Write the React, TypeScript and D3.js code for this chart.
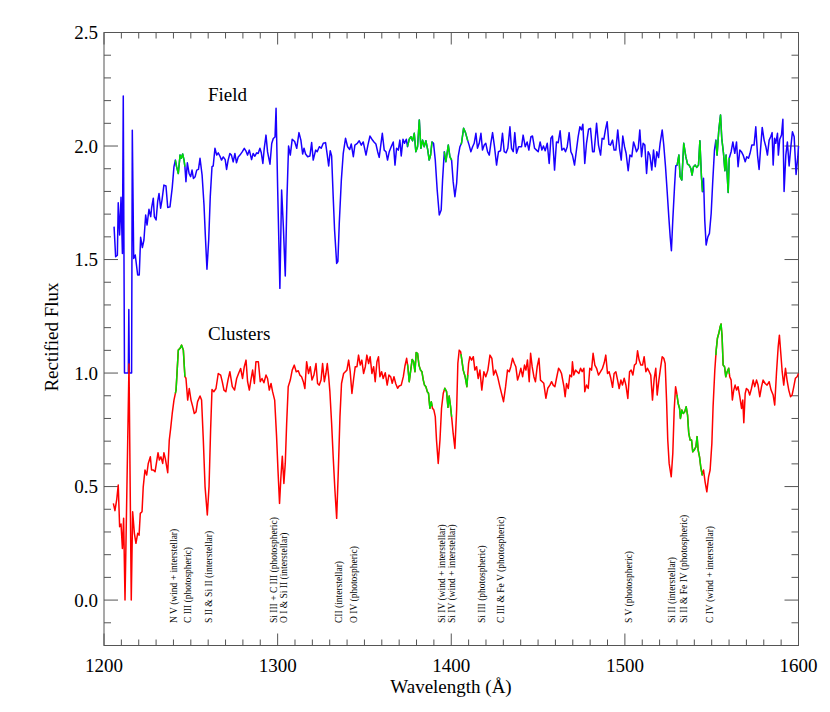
import React, { useEffect } from "react";
import * as d3 from "d3";

// ---- Data ----
const fieldSpectrum: [number, number][] = [
  [1205.8,1.645],[1206.7,1.512],[1207.7,1.519],[1208.2,1.75],[1209.0,1.608],[1209.8,1.774],[1210.6,1.527],[1211.1,2.22],
  [1211.8,1.0],[1214.0,1.0],[1214.3,1.28],[1214.6,1.0],[1215.9,1.0],[1216.3,2.07],[1217.1,1.505],[1218.0,1.52],
  [1219.4,1.432],[1220.3,1.432],[1221.1,1.598],[1222.1,1.553],[1223.0,1.586],[1224.0,1.696],[1224.8,1.652],[1225.9,1.721],
  [1226.9,1.689],[1227.4,1.726],[1228.4,1.77],[1229.0,1.689],[1230.0,1.674],[1230.9,1.755],[1231.7,1.791],[1232.6,1.726],
  [1233.4,1.762],[1234.5,1.828],[1235.7,1.824],[1236.7,1.729],[1238.0,1.732],[1239.3,1.817],[1240.3,1.909],[1241.1,1.938],
  [1241.8,1.909],[1242.8,1.879],[1243.8,1.96],[1244.5,1.946],[1245.3,1.965],[1246.1,1.938],[1246.6,1.909],[1247.2,1.843],
  [1248.0,1.926],[1249.0,1.879],[1249.9,1.865],[1250.7,1.894],[1251.5,1.857],[1252.5,1.865],[1253.4,1.894],[1254.4,1.897],
  [1255.3,1.946],[1256.5,1.872],[1257.6,1.74],[1258.4,1.6],[1259.3,1.457],[1260.3,1.586],[1261.2,1.777],[1262.2,1.909],
  [1262.9,1.912],[1263.9,1.99],[1264.9,1.96],[1265.8,1.97],[1266.8,1.955],[1267.7,1.938],[1268.7,1.952],[1269.8,1.94],
  [1270.6,1.897],[1271.5,1.938],[1272.5,1.967],[1273.4,1.96],[1274.4,1.93],[1275.4,1.967],[1276.3,1.926],[1277.3,1.952],
  [1278.3,1.96],[1279.6,1.974],[1280.8,1.99],[1281.7,1.979],[1282.7,1.96],[1283.7,1.982],[1285.0,1.94],[1285.9,1.967],
  [1286.9,1.955],[1287.9,1.97],[1288.8,1.967],[1289.8,1.99],[1290.6,1.97],[1291.5,1.923],[1292.3,1.99],[1293.3,2.048],
  [1294.2,1.974],[1295.6,1.92],[1296.6,2.011],[1297.5,2.033],[1298.5,2.04],[1299.1,2.166],[1300.0,1.82],[1301.3,1.373],
  [1302.3,1.806],[1303.3,1.645],[1304.4,1.428],[1305.4,1.777],[1306.3,2.0],[1307.3,1.96],[1308.4,2.03],[1309.8,2.02],
  [1311.0,1.99],[1312.3,2.059],[1313.4,2.026],[1314.4,1.965],[1315.2,1.99],[1316.1,1.965],[1317.3,1.953],[1318.6,1.956],
  [1319.6,2.015],[1320.5,1.938],[1321.9,1.982],[1322.8,1.975],[1324.0,1.997],[1325.1,1.99],[1326.3,2.012],[1327.6,2.015],
  [1328.6,1.96],[1329.4,1.912],[1330.3,1.979],[1331.1,1.956],[1332.0,1.777],[1332.8,1.63],[1334.0,1.483],[1334.7,1.491],
  [1335.5,1.659],[1336.7,1.85],[1337.8,1.968],[1339.1,2.034],[1340.3,1.997],[1341.5,1.985],[1342.4,2.009],[1343.6,1.953],
  [1344.5,2.004],[1345.9,2.012],[1347.0,2.023],[1348.2,2.004],[1349.3,2.018],[1350.9,1.96],[1352.0,2.004],[1353.2,2.044],
  [1354.3,2.03],[1355.5,2.018],[1356.6,2.009],[1357.6,1.975],[1358.5,1.95],[1359.3,1.997],[1360.3,2.056],[1361.4,1.982],
  [1362.4,1.975],[1363.3,1.938],[1364.3,1.975],[1365.4,1.997],[1366.6,2.018],[1367.6,1.916],[1368.5,1.99],[1369.5,1.982],
  [1370.4,2.026],[1371.2,1.956],[1372.2,2.03],[1373.1,2.012],[1374.1,2.03],[1374.8,1.997],[1375.8,2.03],[1376.8,2.041],
  [1377.7,2.023],[1378.7,2.056],[1379.6,1.975],[1380.6,1.997],[1381.6,2.115],[1382.5,1.99],[1383.5,2.026],[1384.4,1.997],
  [1385.4,2.023],[1386.4,1.985],[1387.3,1.938],[1388.1,1.96],[1388.9,2.018],[1389.8,2.012],[1390.8,1.938],[1391.9,1.806],
  [1393.1,1.696],[1394.2,1.718],[1395.0,1.85],[1396.0,1.975],[1396.9,1.931],[1398.3,2.004],[1399.2,1.953],[1400.2,1.938],
  [1401.1,1.843],[1402.1,1.777],[1403.1,1.836],[1404.0,1.953],[1405.0,1.997],[1405.9,2.012],[1407.1,2.078],[1408.2,2.059],
  [1409.4,2.026],[1410.3,2.004],[1411.3,1.975],[1412.3,1.997],[1413.2,2.012],[1414.2,2.056],[1415.1,1.99],[1416.1,2.012],
  [1417.1,2.056],[1418.0,1.982],[1419.0,2.004],[1419.9,2.012],[1420.9,1.975],[1421.9,1.96],[1422.8,2.012],[1423.8,2.059],
  [1424.9,1.997],[1426.1,1.916],[1427.2,1.975],[1428.4,1.979],[1429.5,2.056],[1430.5,1.975],[1431.6,1.97],[1432.6,1.99],
  [1433.8,2.085],[1434.7,1.99],[1435.7,1.975],[1436.6,2.059],[1437.6,1.968],[1438.8,1.997],[1440.5,1.997],[1441.4,2.048],
  [1442.6,1.997],[1443.7,2.018],[1444.7,1.982],[1445.9,2.041],[1446.8,2.044],[1448.0,1.99],[1449.1,1.982],[1450.1,1.975],
  [1451.2,2.018],[1452.2,1.982],[1453.1,2.0],[1454.1,1.979],[1455.3,2.012],[1456.4,1.923],[1457.4,2.034],[1458.3,2.044],
  [1459.5,1.894],[1460.6,2.018],[1461.6,2.015],[1462.7,2.067],[1463.7,1.982],[1464.9,1.99],[1465.8,1.975],[1466.8,1.997],
  [1467.9,2.059],[1468.9,1.975],[1469.8,1.96],[1471.0,1.916],[1472.1,1.982],[1473.1,2.041],[1474.1,2.085],[1475.0,2.071],
  [1475.8,2.096],[1476.9,1.923],[1477.9,2.012],[1479.1,2.074],[1480.2,2.078],[1481.4,1.975],[1482.3,1.975],[1483.7,2.1],
  [1484.8,2.004],[1486.0,1.96],[1486.9,2.034],[1487.9,2.03],[1488.8,2.071],[1489.8,2.107],[1490.8,2.007],[1491.7,2.004],
  [1492.9,2.026],[1493.8,1.982],[1494.8,1.982],[1495.9,2.071],[1496.9,1.99],[1497.9,1.938],[1498.8,2.044],[1499.8,1.997],
  [1500.7,1.968],[1501.9,1.891],[1502.9,1.96],[1504.0,1.953],[1505.0,2.018],[1505.9,1.997],[1506.7,1.975],[1507.7,1.99],
  [1508.6,2.071],[1509.6,1.953],[1510.5,2.012],[1511.5,2.004],[1512.5,1.879],[1513.4,1.975],[1514.4,1.96],[1515.5,1.894],
  [1516.5,1.982],[1517.5,1.909],[1518.4,1.975],[1519.4,1.949],[1520.3,2.012],[1521.5,2.071],[1522.4,2.004],[1523.4,1.909],
  [1524.3,1.806],[1525.3,1.688],[1526.1,1.6],[1526.8,1.539],[1527.6,1.674],[1528.6,1.821],[1529.3,1.912],[1530.1,1.916],
  [1531.1,1.96],[1531.8,1.865],[1532.8,1.85],[1533.9,2.012],[1535.1,1.953],[1536.1,1.92],[1537.0,1.916],[1538.0,1.901],
  [1538.7,1.872],[1539.5,1.909],[1540.5,1.916],[1541.4,1.906],[1542.4,1.916],[1543.2,2.023],[1544.1,1.865],[1544.7,1.799],
  [1545.3,1.858],[1546.0,1.674],[1546.8,1.564],[1547.8,1.6],[1548.7,1.615],[1549.7,1.703],[1550.6,1.843],[1551.6,1.982],
  [1552.4,2.026],[1553.1,1.96],[1554.1,2.071],[1555.1,2.137],[1555.8,2.034],[1556.8,1.968],[1557.6,1.891],[1558.3,1.96],
  [1559.5,1.795],[1560.1,1.946],[1561.2,1.975],[1562.2,2.018],[1563.3,1.968],[1564.3,2.018],[1565.2,1.909],[1566.2,1.982],
  [1567.1,1.975],[1568.1,1.96],[1569.3,1.931],[1570.2,1.953],[1571.2,1.946],[1572.1,1.968],[1573.1,2.004],[1574.4,2.004],
  [1575.4,2.085],[1576.4,1.96],[1577.3,1.897],[1578.1,1.982],[1579.1,2.082],[1580.2,2.026],[1581.2,1.997],[1582.1,1.96],
  [1583.1,2.026],[1584.0,2.041],[1584.8,2.059],[1585.4,1.916],[1586.2,2.034],[1586.9,2.012],[1587.9,2.056],[1588.4,1.96],
  [1589.2,2.03],[1590.2,2.048],[1591.0,2.118],[1591.7,1.80],[1592.7,1.96],[1593.6,2.018],[1594.6,1.912],[1595.6,1.997],
  [1596.5,2.063],[1597.5,2.041],[1598.6,1.875],[1599.6,1.953],[1600.0,2.0],
];

const clusterSpectrum: [number, number][] = [
  [1205.4,0.426],[1206.3,0.394],[1207.3,0.441],[1208.2,0.507],[1209.0,0.323],[1209.8,0.335],[1210.6,0.227],[1211.3,0.36],
  [1212.1,0.0],[1214.4,1.04],[1215.7,0.0],[1216.5,0.389],[1217.5,0.294],[1218.4,0.25],[1219.4,0.294],[1220.2,0.286],
  [1220.9,0.382],[1221.9,0.389],[1222.6,0.499],[1223.6,0.573],[1224.6,0.551],[1225.5,0.602],[1226.7,0.631],[1227.4,0.573],
  [1228.4,0.573],[1229.4,0.565],[1230.3,0.609],[1231.1,0.649],[1231.9,0.617],[1232.8,0.631],[1233.8,0.602],[1234.5,0.649],
  [1235.3,0.624],[1236.7,0.561],[1237.6,0.705],[1238.4,0.756],[1239.3,0.822],[1240.3,0.881],[1241.5,0.925],[1242.8,1.101],
  [1243.8,1.109],[1244.7,1.123],[1245.7,1.101],[1246.6,0.984],[1247.2,0.977],[1248.2,0.881],[1249.1,0.932],[1250.1,0.881],
  [1251.1,0.852],[1252.0,0.822],[1253.0,0.829],[1253.9,0.874],[1255.3,0.899],[1256.2,0.881],[1257.2,0.705],[1258.2,0.5],
  [1259.5,0.375],[1260.5,0.5],[1261.4,0.749],[1262.2,0.928],[1263.3,0.918],[1264.5,0.932],[1265.8,0.998],[1267.2,0.991],
  [1268.1,0.962],[1269.1,0.925],[1270.2,0.918],[1271.4,0.969],[1272.5,1.006],[1273.9,0.94],[1275.2,0.925],[1276.4,0.976],
  [1277.5,0.998],[1278.7,1.02],[1279.8,0.976],[1280.8,1.028],[1281.8,1.057],[1282.7,0.962],[1283.7,0.925],[1284.6,0.969],
  [1285.6,1.013],[1286.6,0.954],[1287.5,1.05],[1288.9,1.05],[1290.0,0.962],[1291.0,0.976],[1292.1,0.957],[1293.3,0.991],
  [1294.2,0.976],[1295.2,0.925],[1296.2,0.954],[1297.1,0.918],[1298.3,0.881],[1299.4,0.72],[1300.2,0.573],[1301.1,0.426],
  [1301.9,0.543],[1302.7,0.634],[1303.6,0.514],[1304.4,0.602],[1305.2,0.778],[1306.1,0.94],[1307.3,0.969],[1308.4,1.013],
  [1309.6,1.035],[1310.7,1.006],[1311.9,1.01],[1312.8,0.991],[1313.8,0.984],[1314.8,0.962],[1315.7,0.932],[1316.7,1.05],
  [1317.8,0.998],[1318.8,1.028],[1319.8,0.969],[1320.9,0.991],[1322.1,1.042],[1323.0,0.954],[1324.0,0.947],[1325.0,0.969],
  [1325.9,1.042],[1326.9,0.962],[1327.8,0.998],[1328.6,1.042],[1329.4,0.984],[1330.1,0.918],[1331.1,0.778],[1332.0,0.631],
  [1333.0,0.484],[1334.0,0.36],[1334.9,0.558],[1335.9,0.808],[1336.8,0.954],[1338.0,0.998],[1339.0,1.006],[1339.9,1.013],
  [1340.9,1.057],[1341.8,1.006],[1342.8,0.91],[1343.8,0.976],[1344.7,1.028],[1345.7,1.028],[1346.6,1.079],[1347.6,1.035],
  [1348.5,1.057],[1349.5,0.998],[1350.5,1.028],[1351.4,1.079],[1352.4,1.042],[1353.3,1.072],[1354.3,0.998],[1355.3,1.028],
  [1356.2,0.962],[1357.2,1.05],[1358.1,1.072],[1358.9,0.984],[1359.9,1.006],[1360.8,0.976],[1362.0,1.001],[1363.1,0.947],
  [1364.1,0.991],[1365.1,0.984],[1366.0,0.955],[1367.0,0.984],[1368.1,0.952],[1369.1,0.933],[1370.0,0.943],[1371.2,0.947],
  [1372.4,0.984],[1373.3,1.03],[1374.3,1.065],[1375.0,1.028],[1375.8,0.962],[1376.8,1.021],[1377.5,1.06],[1378.3,1.05],
  [1379.1,1.006],[1379.8,1.09],[1380.6,1.087],[1381.4,1.035],[1382.3,1.013],[1383.1,1.006],[1383.9,0.969],[1384.6,0.947],
  [1385.4,0.94],[1386.2,0.918],[1386.9,0.911],[1387.7,0.845],[1388.5,0.874],[1389.2,0.845],[1390.0,0.837],[1390.8,0.808],
  [1391.5,0.705],[1392.5,0.602],[1393.5,0.705],[1394.4,0.845],[1395.4,0.911],[1396.3,0.933],[1397.3,0.918],[1398.1,0.849],
  [1398.8,0.899],[1399.6,0.852],[1400.4,0.793],[1401.1,0.734],[1402.1,0.668],[1403.1,0.837],[1403.8,1.043],[1404.6,1.101],
  [1405.4,1.094],[1406.1,1.057],[1406.9,1.013],[1408.0,0.984],[1409.0,0.94],[1410.0,1.043],[1410.7,1.072],[1411.7,1.057],
  [1412.7,1.072],[1413.6,1.013],[1414.6,1.028],[1415.5,0.976],[1416.5,1.013],[1417.6,0.925],[1418.8,1.006],[1419.9,0.984],
  [1421.1,1.013],[1422.3,1.079],[1423.4,1.065],[1424.4,0.991],[1425.5,1.013],[1426.7,0.984],[1428.0,0.94],[1429.2,0.903],
  [1430.1,0.874],[1431.3,0.94],[1432.4,1.013],[1433.4,1.006],[1434.3,1.028],[1435.3,1.065],[1436.3,1.043],[1437.2,1.028],
  [1438.2,0.969],[1439.1,0.991],[1440.1,1.021],[1441.1,0.984],[1442.2,1.035],[1443.0,1.013],[1443.9,1.057],[1444.9,0.962],
  [1445.7,1.087],[1446.6,1.028],[1447.6,0.984],[1448.5,0.962],[1449.5,1.028],[1450.5,1.065],[1451.4,0.969],[1452.4,0.962],
  [1453.3,0.955],[1454.5,0.889],[1455.6,0.933],[1456.8,0.947],[1457.8,0.962],[1458.7,0.947],[1459.7,0.94],[1460.6,0.976],
  [1461.8,1.021],[1462.6,1.013],[1463.5,0.998],[1464.9,0.94],[1465.6,0.896],[1466.4,0.954],[1467.4,0.932],[1468.3,0.991],
  [1469.3,0.984],[1469.8,1.05],[1470.6,0.991],[1471.6,1.013],[1472.5,1.006],[1473.5,0.998],[1474.5,1.021],[1475.4,1.006],
  [1476.4,1.021],[1476.9,0.918],[1477.9,0.947],[1478.9,0.932],[1479.8,1.021],[1480.8,1.013],[1481.7,1.087],[1482.7,1.035],
  [1483.7,1.021],[1484.8,0.991],[1486.0,1.006],[1487.1,1.021],[1488.1,1.045],[1489.0,1.079],[1490.0,0.998],[1490.9,1.006],
  [1491.9,0.977],[1492.9,0.937],[1493.8,0.998],[1494.8,1.006],[1495.8,0.969],[1496.7,0.932],[1497.7,0.969],[1498.6,0.947],
  [1499.6,0.977],[1500.6,0.947],[1501.7,0.888],[1502.7,1.006],[1503.6,1.013],[1504.6,0.991],[1505.5,1.035],[1506.5,1.042],
  [1507.3,1.098],[1508.2,1.057],[1509.2,1.035],[1510.2,1.035],[1511.1,1.072],[1512.1,1.006],[1513.0,1.021],[1514.0,1.006],
  [1514.9,0.991],[1515.9,0.881],[1516.9,0.977],[1517.8,1.021],[1518.6,0.903],[1519.6,0.969],[1520.5,1.021],[1521.5,1.072],
  [1522.4,1.065],[1523.2,1.042],[1524.0,0.881],[1524.7,0.705],[1525.5,0.602],[1526.7,0.543],[1527.6,0.646],[1528.4,0.837],
  [1529.2,0.94],[1529.9,0.91],[1530.7,0.866],[1531.5,0.844],[1532.0,0.8],[1532.8,0.837],[1533.6,0.822],[1534.5,0.83],
  [1535.3,0.852],[1536.1,0.815],[1536.8,0.734],[1537.6,0.705],[1538.4,0.705],[1539.1,0.653],[1539.9,0.661],[1540.9,0.675],
  [1541.6,0.72],[1542.2,0.661],[1543.0,0.631],[1543.7,0.587],[1544.5,0.551],[1545.3,0.573],[1546.2,0.521],[1547.2,0.477],
  [1548.2,0.543],[1549.1,0.573],[1550.1,0.69],[1550.8,0.852],[1551.8,1.013],[1552.6,1.101],[1553.3,1.153],[1554.1,1.175],
  [1554.9,1.204],[1555.4,1.216],[1556.0,1.16],[1556.6,1.035],[1557.4,1.028],[1558.1,0.984],[1558.9,1.006],[1559.8,1.021],
  [1560.4,0.984],[1561.2,0.969],[1561.9,0.881],[1562.7,0.925],[1563.5,0.947],[1564.3,0.925],[1565.2,0.94],[1566.2,0.896],
  [1567.2,0.844],[1567.9,0.881],[1568.5,0.781],[1569.3,0.91],[1570.0,0.932],[1571.0,0.925],[1571.9,0.903],[1572.9,0.932],
  [1573.9,0.969],[1574.8,0.94],[1575.8,0.969],[1576.7,0.947],[1577.7,0.896],[1578.7,0.94],[1579.6,0.969],[1580.8,0.954],
  [1581.9,0.947],[1583.1,0.962],[1584.2,0.925],[1585.4,0.903],[1586.3,0.859],[1587.3,0.998],[1588.3,1.116],[1589.0,1.167],
  [1589.8,1.087],[1590.6,1.006],[1591.5,0.947],[1592.5,1.021],[1593.4,0.969],[1594.4,0.925],[1595.4,0.896],[1596.3,0.903],
  [1597.3,0.94],[1598.2,0.977],[1599.2,0.984],[1600.0,0.998],
];

// wavelength ranges drawn in green on both spectra
const greenRanges: [number, number][] = [
  [1241.1, 1246.6], [1374.8, 1389.0], [1396.0, 1400.2], [1405.6, 1409.5], [1530.0, 1544.7], [1552.4, 1560.2],
];

const lineLabels: string[] = [
  "N V (wind + interstellar)", "C III (photospheric)", "S II & Si II (interstellar)",
  "Si III + C III (photospheric)", "O I & Si II (interstellar)", "CII (interstellar)",
  "O IV (photospheric)", "Si IV (wind + interstellar)", "Si IV (wind + interstellar)",
  "Si III (photospheric)", "C III & Fe V (photospheric)", "S V (photospheric)",
  "Si II (interstellar)", "Si II & Fe IV (photospheric)", "C IV (wind + interstellar)",
];
const lineWaves: number[] = [
  1239.9, 1248.2, 1260.3, 1297.5, 1303.6, 1335.3, 1343.5, 1394.6, 1400.4, 1417.6, 1428.4, 1502.1, 1526.6, 1533.5, 1548.5,
];

const xMajorTicks: number[] = [1200, 1300, 1400, 1500, 1600];
const yMajorTicks: number[] = [0.0, 0.5, 1.0, 1.5, 2.0, 2.5];
const seriesNames: string[] = ["Field", "Clusters"];

// ---- Layout ----
const W = 830, H = 712;
const L = 104, R = 798.5, T = 32.5, B = 645.5;
const FONT = "'Liberation Serif', 'Times New Roman', serif";
const AXIS = "#555";

const x = d3.scaleLinear().domain([1200, 1600]).range([L, R]);
const y = d3.scaleLinear().domain([-0.2, 2.5]).range([B, T]);

const lineGen = d3.line<[number, number]>().x(d => x(d[0])).y(d => y(d[1]));

function interp(data: [number, number][], w: number): number {
  for (let i = 1; i < data.length; i++) {
    if (data[i][0] >= w) {
      const [x0, y0] = data[i - 1], [x1, y1] = data[i];
      return y0 + ((w - x0) / (x1 - x0)) * (y1 - y0);
    }
  }
  return data[data.length - 1][1];
}

function subset(data: [number, number][], a: number, b: number): [number, number][] {
  const pts: [number, number][] = [[a, interp(data, a)]];
  data.forEach(d => { if (d[0] > a && d[0] < b) pts.push(d); });
  pts.push([b, interp(data, b)]);
  return pts;
}

export default function App() {
  useEffect(() => { document.body.style.margin = "0"; }, []);

  const xMinor = d3.range(1200, 1601, 10);
  const yMinor = d3.range(-2, 26).map(v => v / 10);

  return (
    <svg width={W} height={H} style={{ display: "block", background: "#fff" }}>
      {/* frame */}
      <rect x={L} y={T} width={R - L} height={B - T} fill="none" stroke={AXIS} strokeWidth={1} />
      {/* x ticks */}
      {xMinor.map(v => {
        const major = v % 100 === 0;
        const len = major ? 12 : 6;
        return (
          <g key={"xt" + v}>
            <line x1={x(v)} x2={x(v)} y1={B} y2={B - len} stroke={AXIS} />
            <line x1={x(v)} x2={x(v)} y1={T} y2={T + len} stroke={AXIS} />
          </g>
        );
      })}
      {yMinor.map(v => {
        const major = Math.abs(v * 2 - Math.round(v * 2)) < 1e-6;
        const len = major ? 14 : 7;
        return (
          <g key={"yt" + v}>
            <line x1={L} x2={L + len} y1={y(v)} y2={y(v)} stroke={AXIS} />
            <line x1={R} x2={R - len} y1={y(v)} y2={y(v)} stroke={AXIS} />
          </g>
        );
      })}
      {xMajorTicks.map(v => (
        <text key={"xl" + v} x={x(v)} y={672} textAnchor="middle" fontFamily={FONT} fontSize={19}>{v}</text>
      ))}
      {yMajorTicks.map(v => (
        <text key={"yl" + v} x={L - 6} y={y(v) + 6.5} textAnchor="end" fontFamily={FONT} fontSize={19}>{v.toFixed(1)}</text>
      ))}
      <text x={451} y={693} textAnchor="middle" fontFamily={FONT} fontSize={19}>Wavelength (Å)</text>
      <text transform={`translate(58,337) rotate(-90)`} textAnchor="middle" fontFamily={FONT} fontSize={19}>Rectified Flux</text>

      {/* spectra */}
      <path d={lineGen(fieldSpectrum) || ""} fill="none" stroke="#1a00ff" strokeWidth={1.5} strokeLinejoin="round" />
      <path d={lineGen(clusterSpectrum) || ""} fill="none" stroke="#ff0000" strokeWidth={1.5} strokeLinejoin="round" />
      {greenRanges.map(([a, b], i) => (
        <g key={"g" + i}>
          <path d={lineGen(subset(fieldSpectrum, a, b)) || ""} fill="none" stroke="#00e000" strokeWidth={1.5} strokeLinejoin="round" />
          <path d={lineGen(subset(clusterSpectrum, a, b)) || ""} fill="none" stroke="#00e000" strokeWidth={1.5} strokeLinejoin="round" />
        </g>
      ))}

      {/* series names */}
      <text x={208} y={101} fontFamily={FONT} fontSize={19}>{seriesNames[0]}</text>
      <text x={208} y={339.5} fontFamily={FONT} fontSize={19}>{seriesNames[1]}</text>

      {/* line identifications */}
      {lineLabels.map((lab, i) => {
        const px = x(lineWaves[i]) + 3.5;
        return (
          <text key={"ll" + i} transform={`translate(${px},623) rotate(-90)`} fontFamily={FONT} fontSize={9.5}>{lab}</text>
        );
      })}
    </svg>
  );
}
